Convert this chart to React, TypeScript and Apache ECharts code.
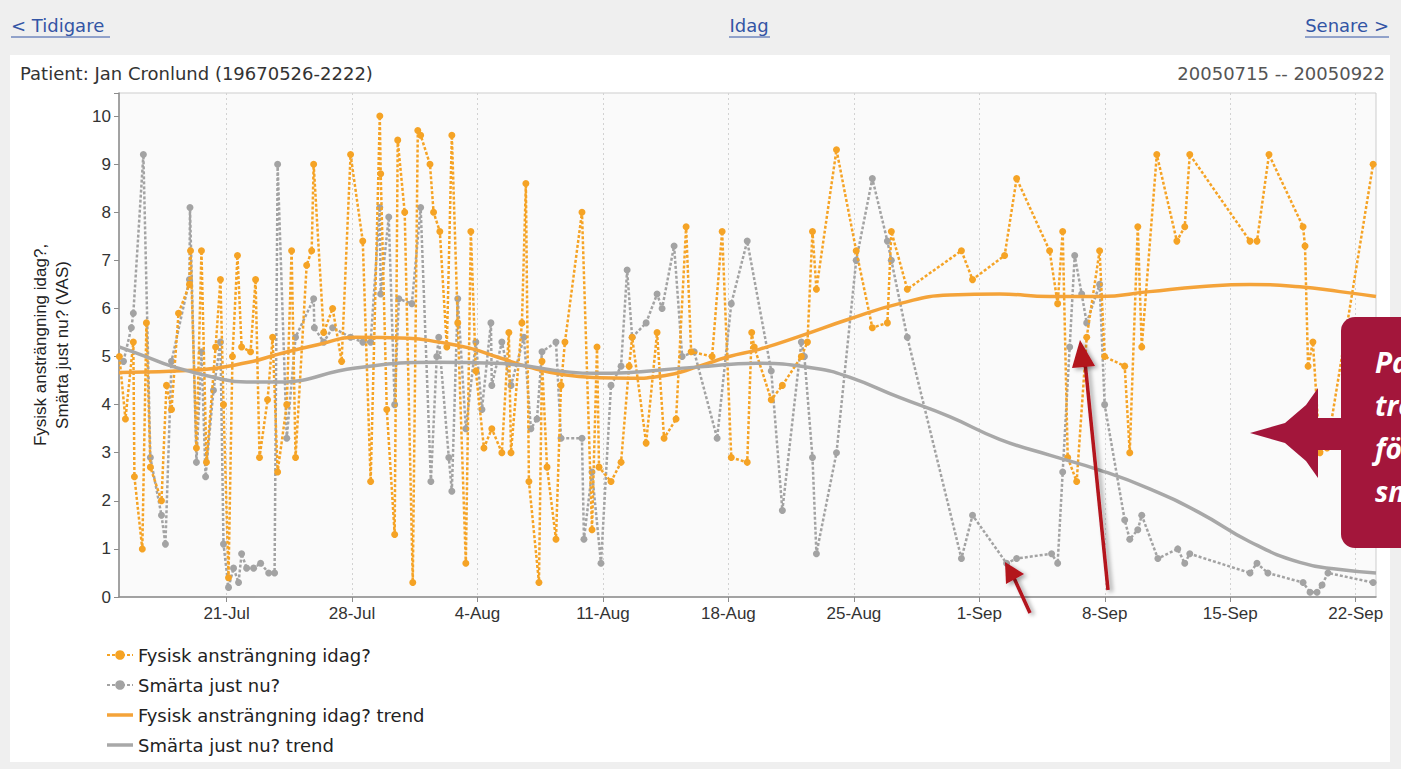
import React, { useEffect, useRef } from "react";
import * as echarts from "echarts";

// Day offsets are counted from 2005-07-15 00:00
const fysDay = [
  0.02, 0.36, 0.8, 0.86, 1.3, 1.53, 1.75, 2.37, 2.65, 2.93, 3.32, 3.93, 3.99, 4.32, 4.6, 4.88, 5.39, 5.66, 5.83,
  6.11, 6.33, 6.61, 6.84, 7.34, 7.62, 7.84, 8.29, 8.57, 8.85, 9.36, 9.63, 9.85, 10.47, 10.75, 10.86, 11.42, 11.92,
  12.42, 12.92, 13.6, 14.04, 14.55, 14.6, 14.94, 15.38, 15.55, 15.94, 16.39, 16.67, 16.83, 17.35, 17.55, 17.9,
  18.29, 18.57, 18.9, 19.35, 19.63, 19.91, 20.36, 20.8, 21.36, 21.75, 21.87, 22.48, 22.7, 22.87, 23.43, 23.6,
  23.88, 24.38, 24.66, 24.88, 25.83, 26.39, 26.67, 26.78, 27.45, 28.01, 28.46, 28.63, 29.41, 30.02, 30.41, 31.08,
  31.64, 31.92, 33.09, 33.65, 34.16, 35.05, 35.3, 35.44, 36.39, 37.01, 38.07, 38.41, 38.69, 38.91, 40.03, 41.13,
  42.03, 42.87, 43.09, 43.98, 47.0, 47.62, 49.41, 50.08, 51.92, 52.37, 52.65, 52.93, 53.43, 53.99, 54.71, 54.99,
  56.11, 56.39, 56.84, 57.06, 57.9, 59.02, 59.46, 59.74, 63.1, 63.49, 64.16, 66.06, 66.17, 66.34, 66.61, 67.0,
  67.4, 69.97,
];
const fysVal = [
  5.0, 3.7, 5.3, 2.5, 1.0, 5.7, 2.7, 2.0, 4.4, 3.9, 5.9, 6.5, 7.2, 3.1, 7.2, 2.8, 5.2, 6.6, 4.0,
  0.4, 5.0, 7.1, 5.2, 5.1, 6.6, 2.9, 4.1, 5.4, 2.6, 4.0, 7.2, 2.9, 6.9, 7.2, 9.0, 5.5, 6.0,
  4.9, 9.2, 7.4, 2.4, 10.0, 8.8, 3.9, 1.3, 9.5, 8.0, 0.3, 9.7, 9.6, 9.0, 8.0, 7.6,
  5.2, 9.6, 5.7, 0.7, 7.6, 4.7, 3.1, 3.5, 3.0, 5.5, 3.0, 5.7, 8.6, 2.4, 0.3, 4.9,
  2.7, 1.2, 4.4, 5.3, 8.0, 1.4, 5.2, 2.7, 2.4, 2.8, 4.8, 5.4, 3.2, 5.5, 3.3, 3.7,
  7.7, 5.1, 5.0, 7.6, 2.9, 2.8, 5.5, 5.2, 4.1, 4.4, 5.0, 5.3, 7.6, 6.4, 9.3, 7.2,
  5.6, 5.7, 7.6, 6.4, 7.2, 6.6, 7.1, 8.7, 7.2, 6.1, 7.6, 2.9, 2.4, 5.4, 7.2, 5.0,
  4.8, 3.0, 7.7, 5.2, 9.2, 7.4, 7.7, 9.2, 7.4, 7.4, 9.2, 7.7, 7.3, 4.8, 5.3, 3.0,
  3.1, 9.0,
];
const smDay = [
  0.25, 0.69, 0.8, 1.36, 1.75, 2.37, 2.59, 2.93, 3.93, 3.96, 4.32, 4.6, 4.83, 5.27, 5.66, 5.83, 6.11, 6.39, 6.67,
  6.84, 7.12, 7.51, 7.9, 8.35, 8.68, 8.85, 9.36, 9.85, 10.86, 10.9, 11.42, 11.92, 12.92, 13.6, 14.04, 14.55, 14.6,
  15.05, 15.38, 15.61, 16.34, 16.83, 17.4, 17.73, 17.84, 18.4, 18.57, 18.9, 19.35, 19.91, 20.25, 20.75, 20.8,
  21.36, 21.87, 22.59, 22.98, 23.32, 23.6, 24.38, 24.66, 25.83, 25.94, 26.39, 26.89, 27.45, 28.01, 28.35, 28.63,
  29.41, 30.02, 30.3, 30.97, 31.42, 32.09, 33.37, 34.16, 35.05, 36.39, 37.01, 38.07, 38.24, 38.69, 38.91, 40.03,
  41.13, 42.03, 42.87, 43.09, 43.98, 47.0, 47.62, 49.52, 50.08, 52.03, 52.37, 52.65, 53.04, 53.32, 53.71, 53.99,
  54.71, 54.99, 56.11, 56.39, 56.84, 57.06, 57.96, 59.07, 59.46, 59.74, 63.1, 63.49, 64.1, 66.06, 66.45, 66.84,
  67.12, 67.45, 69.97,
];
const smVal = [
  4.9, 5.6, 5.9, 9.2, 2.9, 1.7, 1.1, 4.9, 6.6, 8.1, 2.8, 5.1, 2.5, 4.3, 5.3, 1.1, 0.2, 0.6, 0.3,
  0.9, 0.6, 0.6, 0.7, 0.5, 0.5, 9.0, 3.3, 5.4, 6.2, 5.6, 5.3, 5.6, 5.4, 5.3, 5.3, 8.1, 6.3,
  7.9, 4.0, 6.2, 6.1, 8.1, 2.4, 5.0, 5.4, 2.9, 2.2, 6.2, 3.5, 5.3, 3.9, 5.7, 4.4,
  5.3, 4.4, 5.4, 3.5, 3.7, 5.1, 5.3, 3.3, 3.3, 1.2, 2.6, 0.7, 4.4, 4.8, 6.8, 5.4,
  5.7, 6.3, 6.0, 7.3, 5.0, 5.1, 3.3, 6.1, 7.4, 4.7, 1.8, 5.3, 5.0, 2.9, 0.9, 3.0,
  7.0, 8.7, 7.4, 7.0, 5.4, 0.8, 1.7, 0.7, 0.8, 0.9, 0.7, 2.6, 5.2, 7.1, 6.3, 5.7,
  6.5, 4.0, 1.6, 1.2, 1.4, 1.7, 0.8, 1.0, 0.7, 0.9, 0.5, 0.7, 0.5, 0.3, 0.1, 0.1,
  0.25, 0.5, 0.3,
];
const fysTrendDay = [0, 4.44, 7.23, 8.9, 11.14, 13.2, 16.16, 17.84, 19.52, 21.19, 22.87, 24.83, 26.78, 28.46, 30.41,
  32.37, 34.04, 35.72, 37.96, 40.75, 43.54, 46.34, 49.13, 51.92, 54.71, 57.5, 60.3, 63.09, 65.88, 68.12, 70.13];
const fysTrendVal = [4.67, 4.72, 4.88, 5.05, 5.25, 5.4, 5.38, 5.3, 5.18, 4.98, 4.78, 4.62, 4.56, 4.55, 4.6,
  4.8, 5.0, 5.15, 5.42, 5.78, 6.1, 6.28, 6.3, 6.25, 6.25, 6.35, 6.45, 6.5, 6.45, 6.35, 6.25];
const smTrendDay = [0, 1.5, 2.93, 5.27, 7.12, 8.8, 13.2, 17.67, 21.0, 26.6, 32.2, 35.55, 38.9, 40.75, 43.54, 46.34,
  49.13, 51.92, 54.71, 57.5, 60.3, 63.09, 65.88, 68.12, 70.13];
const smTrendVal = [5.2, 5.0, 4.8, 4.57, 4.47, 4.47, 4.76, 4.88, 4.86, 4.65, 4.78, 4.86, 4.75, 4.57, 4.15, 3.75,
  3.28, 2.95, 2.64, 2.25, 1.75, 1.15, 0.72, 0.57, 0.5];

const xTickDays = [6, 13, 20, 27, 34, 41, 48, 55, 62, 69];
const xTickLabels = ["21-Jul", "28-Jul", "4-Aug", "11-Aug", "18-Aug", "25-Aug", "1-Sep", "8-Sep", "15-Sep", "22-Sep"];
const seriesNames = [
  "Fysisk ansträngning idag?",
  "Smärta just nu?",
  "Fysisk ansträngning idag? trend",
  "Smärta just nu? trend",
];
const yAxisName = "Fysisk ansträngning idag?,\nSmärta just nu? (VAS)";
const patientText = "Patient: Jan Cronlund (19670526-2222)";
const rangeText = "20050715 -- 20050922";
const calloutLines = ["Pa", "tre", "fö", "sm"];

const ORANGE = "#f5a325";
const GRAY = "#a3a3a3";
const RED = "#b3121f";
const TREND_ICON = "path://M0,0H26V3.5H0Z";

const zip = (a: number[], b: number[]) => a.map((v, i) => [v, b[i]]);

export default function App() {
  const ref = useRef<HTMLDivElement>(null);
  useEffect(() => {
    if (!ref.current) return;
    const chart = echarts.init(ref.current, null, { renderer: "svg" });
    const linkFont = { fontFamily: "DejaVu Sans", fontSize: 18, fill: "#3355a5" };
    const arrowShadow = { shadowBlur: 4, shadowColor: "rgba(0,0,0,0.35)", shadowOffsetX: 3, shadowOffsetY: 2 };
    chart.setOption({
      animation: false,
      backgroundColor: "#efefef",
      grid: {
        left: 119, top: 93, width: 1257, height: 504, show: true,
        backgroundColor: "#fafafa", borderColor: "#cdcdcd", borderWidth: 1,
      },
      xAxis: {
        type: "value", min: 0, max: 70.13,
        axisLine: { show: true, onZero: false, lineStyle: { color: "#8c8c8c", width: 1.5 } },
        axisTick: { show: true, customValues: xTickDays, length: 5, lineStyle: { color: "#8c8c8c" } },
        axisLabel: {
          customValues: xTickDays, margin: 8, color: "#333", fontSize: 17, fontFamily: "Liberation Sans",
          formatter: (v: number) => xTickLabels[xTickDays.indexOf(Math.round(v))] ?? "",
        },
        splitLine: { show: true, lineStyle: { color: "#d2d2d2", type: [2, 3] } },
      },
      yAxis: {
        type: "value", min: 0, max: 10.48, interval: 1,
        name: yAxisName, nameLocation: "middle", nameGap: 46, nameRotate: 90,
        nameTextStyle: { fontSize: 17, fontFamily: "Liberation Sans", color: "#222", lineHeight: 22, align: "center" },
        axisLine: { show: true, lineStyle: { color: "#8c8c8c", width: 1.5 } },
        axisTick: { show: true, length: 5, lineStyle: { color: "#8c8c8c" } },
        axisLabel: {
          color: "#333", fontSize: 17, fontFamily: "Liberation Sans", margin: 8,
          formatter: (v: number) => (Math.abs(v - Math.round(v)) < 1e-6 ? String(Math.round(v)) : ""),
        },
        splitLine: { show: false },
      },
      legend: {
        orient: "vertical", left: 101, top: 641, itemGap: 12, itemWidth: 26, itemHeight: 12,
        data: [
          { name: seriesNames[0] },
          { name: seriesNames[1] },
          { name: seriesNames[2], icon: TREND_ICON },
          { name: seriesNames[3], icon: TREND_ICON },
        ],
        textStyle: { fontSize: 18, fontFamily: "DejaVu Sans", color: "#222" },
      },
      series: [
        {
          name: seriesNames[0], type: "line", data: zip(fysDay, fysVal), z: 4,
          symbol: "circle", symbolSize: 7, itemStyle: { color: ORANGE },
          lineStyle: { color: ORANGE, width: 2.5, type: [3, 2] },
        },
        {
          name: seriesNames[1], type: "line", data: zip(smDay, smVal), z: 3,
          symbol: "circle", symbolSize: 7, itemStyle: { color: GRAY },
          lineStyle: { color: GRAY, width: 2.5, type: [3, 2] },
        },
        {
          name: seriesNames[2], type: "line", data: zip(fysTrendDay, fysTrendVal), z: 5,
          smooth: true, symbol: "none", itemStyle: { color: "#f4a339" },
          lineStyle: { color: "#f4a339", width: 3.5 },
        },
        {
          name: seriesNames[3], type: "line", data: zip(smTrendDay, smTrendVal), z: 5,
          smooth: true, symbol: "none", itemStyle: { color: "#a8a8a8" },
          lineStyle: { color: "#a8a8a8", width: 3.5 },
        },
      ],
      graphic: [
        { type: "rect", z: -10, shape: { x: 10, y: 55, width: 1380, height: 707 }, style: { fill: "#ffffff" } },
        { type: "text", x: 11, y: 25, style: { ...linkFont, text: "< Tidigare", verticalAlign: "middle" } },
        { type: "line", shape: { x1: 11, y1: 37, x2: 110, y2: 37 }, style: { stroke: "#3355a5", lineWidth: 1 } },
        { type: "text", x: 749, y: 25, style: { ...linkFont, text: "Idag", align: "center", verticalAlign: "middle" } },
        { type: "line", shape: { x1: 729, y1: 37, x2: 770, y2: 37 }, style: { stroke: "#3355a5", lineWidth: 1 } },
        { type: "text", x: 1389, y: 25, style: { ...linkFont, text: "Senare >", align: "right", verticalAlign: "middle" } },
        { type: "line", shape: { x1: 1305, y1: 37, x2: 1389, y2: 37 }, style: { stroke: "#3355a5", lineWidth: 1 } },
        {
          type: "text", x: 20, y: 73,
          style: { text: patientText, fontFamily: "DejaVu Sans", fontSize: 18, fill: "#333", verticalAlign: "middle" },
        },
        {
          type: "text", x: 1385, y: 73,
          style: { text: rangeText, fontFamily: "DejaVu Sans", fontSize: 18, fill: "#555", align: "right", verticalAlign: "middle" },
        },
        // red arrows
        {
          type: "line", z: 100, shape: { x1: 1108, y1: 590, x2: 1085, y2: 362 },
          style: { stroke: RED, lineWidth: 3.5, ...arrowShadow },
        },
        {
          type: "polygon", z: 100, shape: { points: [[1080, 340], [1095, 366], [1072, 368]] },
          style: { fill: RED, ...arrowShadow },
        },
        {
          type: "line", z: 100, shape: { x1: 1030, y1: 613, x2: 1014, y2: 578 },
          style: { stroke: RED, lineWidth: 3.5, ...arrowShadow },
        },
        {
          type: "polygon", z: 100, shape: { points: [[1005, 562], [1024, 574], [1006, 584]] },
          style: { fill: RED, ...arrowShadow },
        },
        // callout
        {
          type: "rect", z: 100, shape: { x: 1341, y: 317, width: 110, height: 231, r: 14 },
          style: { fill: "#a3163b" },
        },
        {
          type: "polygon", z: 100,
          shape: {
            points: [[1250, 433], [1285, 423], [1306, 405], [1318, 388], [1318, 418], [1345, 418], [1345, 450],
              [1318, 450], [1318, 478], [1306, 461], [1285, 443]],
          },
          style: { fill: "#a3163b" },
        },
        ...calloutLines.map((t, i) => ({
          type: "text", z: 101, x: 1375, y: 362 + i * 43,
          style: {
            text: t, fontFamily: "Open Sans", fontSize: 28, fontWeight: "bold", fontStyle: "italic",
            fill: "#ffffff", verticalAlign: "middle",
          },
        })),
      ],
    });
    return () => chart.dispose();
  }, []);
  return (
    <div
      ref={ref}
      style={{ position: "fixed", left: 0, top: 0, width: 1401, height: 769 }}
    />
  );
}
